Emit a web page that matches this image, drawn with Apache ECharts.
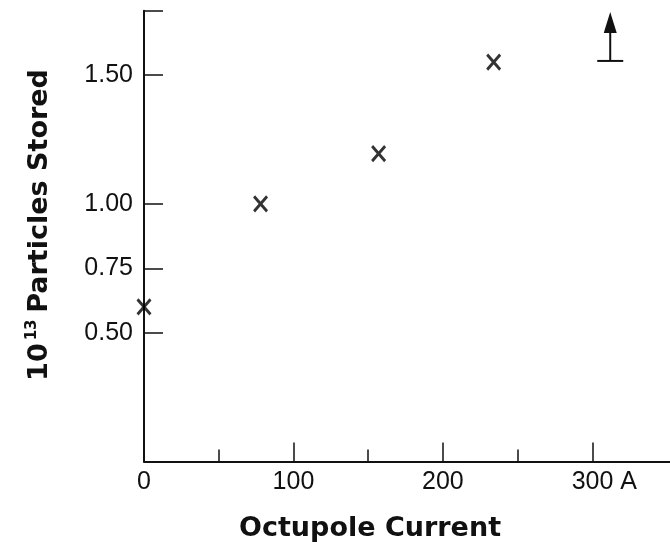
<!DOCTYPE html>
<html>
<head>
<meta charset="utf-8">
<script src="https://cdn.jsdelivr.net/npm/echarts@6/dist/echarts.min.js"></script>
<style>
  html, body { margin: 0; padding: 0; background: #fff; }
  #chart { width: 670px; height: 542px; }
</style>
</head>
<body>
<div id="chart"></div>
<script>
// measured points (Octupole current in A, particles stored in 10^13)
var currents = [0, 78, 157, 234];
var stored = [0.60, 1.00, 1.195, 1.55];

// lower limit shown with an arrow
var limitCurrent = [312];
var limitBase = [1.555];
var limitTop = [1.745];

// axis ticks / labels
var yTicks = [0.5, 0.75, 1.0, 1.5, 1.75];
var yLabels = [0.5, 0.75, 1.0, 1.5];
var xMajor = [100, 200, 300];
var xMinor = [50, 150, 250];
var xLabels = [0, 100, 200, 300];

var font = 'Liberation Sans';
var titleFont = 'DejaVu Sans';

var myChart = echarts.init(document.getElementById('chart'));

var points = currents.map(function (c, i) { return [c, stored[i]]; });
var limits = limitCurrent.map(function (c, i) { return [c, limitBase[i], limitTop[i]]; });

var option = {
    animation: false,
    backgroundColor: '#fff',
    grid: { left: 144, right: 0, top: 10.7, bottom: 80.5 },
    title: {
        text: 'Octupole Current',
        left: 234,
        top: 510,
        textStyle: { fontFamily: titleFont, fontWeight: 'bold', fontSize: 27, color: '#111' }
    },
    graphic: [{
        type: 'text',
        x: 40,
        y: 225,
        rotation: Math.PI / 2,
        style: {
            text: '{n|10}{s|13}  {n|Particles Stored}',
            align: 'center',
            verticalAlign: 'middle',
            fill: '#111',
            rich: {
                n: { fontFamily: titleFont, fontWeight: 'bold', fontSize: 27, fill: '#111' },
                s: { fontFamily: titleFont, fontWeight: 'bold', fontSize: 15, fill: '#111', padding: [0, 0, 16, 3] }
            }
        }
    }],
    xAxis: [{
        type: 'value',
        min: 0,
        max: 352,
        interval: 50,
        axisLine: { show: true, lineStyle: { color: '#111', width: 2 } },
        axisTick: { show: true, inside: true, length: 19, customValues: xMajor, lineStyle: { color: '#111', width: 1.5 } },
        axisLabel: {
            customValues: xLabels,
            margin: 8,
            fontFamily: font,
            fontSize: 25,
            color: '#111',
            formatter: function (v) { return v === 300 ? '{a|300 A}' : String(v); },
            rich: { a: { fontFamily: font, fontSize: 25, color: '#111', padding: [0, 0, 0, 24] } }
        },
        splitLine: { show: false }
    }, {
        type: 'value',
        min: 0,
        max: 352,
        interval: 50,
        position: 'bottom',
        axisLine: { show: false },
        axisTick: { show: true, inside: true, length: 12, customValues: xMinor, lineStyle: { color: '#111', width: 1.5 } },
        axisLabel: { show: false },
        splitLine: { show: false }
    }],
    yAxis: {
        type: 'value',
        min: 0,
        max: 1.75,
        interval: 0.25,
        axisLine: { show: true, lineStyle: { color: '#111', width: 2 } },
        axisTick: { show: true, inside: true, length: 19, customValues: yTicks, lineStyle: { color: '#111', width: 1.5 } },
        axisLabel: {
            customValues: yLabels,
            margin: 11,
            fontFamily: font,
            fontSize: 25,
            color: '#111',
            formatter: function (v) { return v.toFixed(2); }
        },
        splitLine: { show: false }
    },
    series: [{
        type: 'scatter',
        data: points,
        symbol: 'path://M0,0L10,12M10,0L0,12',
        symbolSize: [13, 15],
        itemStyle: { color: 'transparent', borderColor: '#000', borderWidth: 3 },
        emphasis: { disabled: true }
    }, {
        type: 'custom',
        data: limits,
        clip: false,
        renderItem: function (params, api) {
            var b = api.coord([api.value(0), api.value(1)]);
            var t = api.coord([api.value(0), api.value(2)]);
            var st = { stroke: '#111', lineWidth: 2 };
            return {
                type: 'group',
                children: [
                    { type: 'line', shape: { x1: b[0] - 13, y1: b[1], x2: b[0] + 13, y2: b[1] }, style: st },
                    { type: 'line', shape: { x1: b[0], y1: b[1], x2: t[0], y2: t[1] + 18 }, style: st },
                    { type: 'polygon', shape: { points: [[t[0], t[1]], [t[0] - 6.5, t[1] + 21], [t[0] + 6.5, t[1] + 21]] }, style: { fill: '#111' } }
                ]
            };
        }
    }]
};

myChart.setOption(option);
</script>
</body>
</html>
